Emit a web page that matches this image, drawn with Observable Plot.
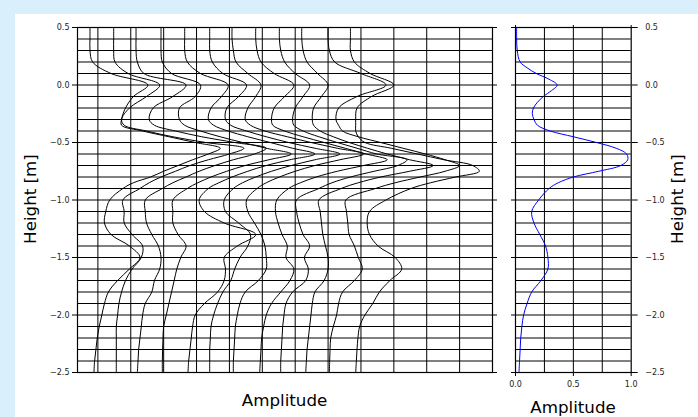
<!DOCTYPE html>
<html><head><meta charset="utf-8">
<script src="https://cdn.jsdelivr.net/npm/d3@7"></script>
<script src="https://cdn.jsdelivr.net/npm/@observablehq/plot@0.6"></script>
<style>
html,body{margin:0;padding:0;width:698px;height:417px;overflow:hidden;background:#d9effc;font-family:"DejaVu Sans",sans-serif}
#card{position:absolute;left:15px;top:14px;width:683px;height:403px;background:#fff}
#left,#right{position:absolute;top:0}
#left{left:0}
#right{left:500px}
.lbl{position:absolute;font-size:16.7px;line-height:1;color:#000;white-space:nowrap;transform:translate(-50%,-50%)}
.rot{transform:translate(-50%,-50%) rotate(-90deg)}
</style></head><body>
<div id="card"></div>
<div id="left"></div>
<div id="right"></div>
<div class="lbl rot" style="left:29.5px;top:199px">Height [m]</div>
<div class="lbl rot" style="left:676.5px;top:199px">Height [m]</div>
<div class="lbl" style="left:284.5px;top:399.5px">Amplitude</div>
<div class="lbl" style="left:573px;top:406.5px">Amplitude</div>
<script>
// depth levels (m) shared by all traces
const levels = [0.5,0.4,0.3,0.2,0.1,0.0,-0.1,-0.2,-0.3,-0.35,-0.4,-0.45,-0.5,-0.55,-0.6,-0.65,-0.7,-0.75,-0.8,-0.85,-0.9,-1.0,-1.1,-1.2,-1.3,-1.4,-1.5,-1.6,-1.7,-1.8,-1.9,-2.0,-2.1,-2.2,-2.3,-2.4,-2.5];
// trace offsets (amplitude units)
const offsets = [-0.06,0.12,0.29,0.48,0.66,0.85,1.02,1.20,1.38,1.55,1.75,1.92];
// amplitude of each trace at the levels above
const tr1 = [0,0,0,0.02,0.16,0.44,0.33,0.27,0.24,0.24,0.40,0.60,0.80,0.99,0.90,0.78,0.67,0.56,0.46,0.33,0.25,0.15,0.12,0.11,0.16,0.30,0.38,0.30,0.21,0.14,0.11,0.09,0.07,0.055,0.045,0.035,0.03];
const tr2 = [0,0,0,0.01,0.11,0.35,0.25,0.12,0.06,0.08,0.25,0.45,0.70,0.99,0.88,0.72,0.58,0.47,0.36,0.27,0.20,0.07,0.08,0.08,0.14,0.22,0.21,0.14,0.09,0.06,0.04,0.03,0.02,0.02,0.02,0.02,0.02];
const tr3 = [0,0,0,0.01,0.06,0.38,0.28,0.13,0.10,0.14,0.30,0.50,0.75,0.99,0.90,0.74,0.60,0.48,0.38,0.28,0.20,0.07,0.07,0.08,0.12,0.17,0.19,0.18,0.14,0.12,0.07,0.05,0.04,0.03,0.02,0.015,0.01];
const tr4 = [0,0,0,0.01,0.08,0.30,0.26,0.14,0.14,0.18,0.30,0.45,0.62,0.80,0.99,0.82,0.64,0.50,0.38,0.28,0.20,0.09,0.09,0.09,0.13,0.19,0.15,0.12,0.10,0.08,0.06,0.04,0.02,0.015,0.012,0.01,0.01];
const tr5 = [0,0,0,0.02,0.12,0.33,0.28,0.20,0.18,0.22,0.33,0.48,0.65,0.82,0.99,0.80,0.62,0.48,0.36,0.26,0.18,0.11,0.15,0.30,0.54,0.40,0.30,0.31,0.30,0.25,0.15,0.08,0.06,0.05,0.04,0.03,0.025];
const tr6 = [0,0,0,0.02,0.10,0.28,0.22,0.13,0.12,0.16,0.28,0.43,0.60,0.80,0.99,0.80,0.62,0.47,0.35,0.25,0.18,0.11,0.12,0.22,0.31,0.29,0.23,0.19,0.16,0.10,0.06,0.03,0.01,0.005,0,0,0];
const tr7 = [0,0,0.01,0.03,0.12,0.22,0.18,0.12,0.10,0.14,0.25,0.42,0.60,0.80,1.0,0.82,0.63,0.48,0.36,0.26,0.19,0.11,0.12,0.17,0.22,0.25,0.26,0.26,0.20,0.10,0.06,0.04,0.025,0.02,0.015,0.01,0.01];
const tr8 = [0,0,0.01,0.04,0.14,0.29,0.22,0.14,0.12,0.13,0.22,0.36,0.52,0.68,0.84,1.0,0.82,0.62,0.46,0.34,0.25,0.16,0.15,0.17,0.20,0.24,0.23,0.29,0.26,0.19,0.12,0.08,0.06,0.045,0.04,0.035,0.03];
const tr9 = [0,0,0.01,0.04,0.12,0.23,0.18,0.12,0.10,0.11,0.18,0.30,0.44,0.59,0.74,0.97,0.90,0.72,0.54,0.40,0.30,0.13,0.13,0.15,0.18,0.23,0.19,0.22,0.20,0.10,0.05,0.035,0.025,0.02,0.015,0.01,0.01];
const tr10 = [0,0,0.01,0.04,0.12,0.20,0.15,0.09,0.08,0.09,0.14,0.24,0.36,0.50,0.65,0.82,1.0,0.82,0.60,0.43,0.30,0.13,0.14,0.15,0.16,0.18,0.20,0.20,0.17,0.10,0.08,0.07,0.06,0.05,0.04,0.035,0.03];
const tr11 = [0,0,0.01,0.05,0.25,0.44,0.22,0.08,0.06,0.08,0.11,0.23,0.40,0.57,0.74,0.89,1.0,0.89,0.70,0.51,0.36,0.135,0.14,0.15,0.16,0.20,0.23,0.26,0.20,0.11,0.08,0.065,0.04,0.02,0.015,0.012,0.01];
const tr12 = [0,0,0,0.03,0.15,0.33,0.16,0.05,0.04,0.04,0.04,0.06,0.11,0.31,0.51,0.71,0.93,0.98,0.80,0.61,0.46,0.27,0.145,0.127,0.145,0.21,0.34,0.39,0.30,0.22,0.17,0.11,0.07,0.057,0.05,0.045,0.04];
const traces = [tr1,tr2,tr3,tr4,tr5,tr6,tr7,tr8,tr9,tr10,tr11,tr12];

// mean amplitude curve (right panel)
const meanY = [0.5,0.4,0.3,0.2,0.15,0.1,0.05,0.0,-0.05,-0.1,-0.15,-0.2,-0.25,-0.3,-0.35,-0.4,-0.45,-0.5,-0.55,-0.6,-0.65,-0.7,-0.75,-0.8,-0.85,-0.9,-1.0,-1.1,-1.2,-1.3,-1.4,-1.5,-1.6,-1.7,-1.8,-1.9,-2.0,-2.1,-2.2,-2.3,-2.4,-2.5];
const meanAmp = [0.01,0.01,0.015,0.04,0.10,0.18,0.29,0.36,0.31,0.24,0.19,0.155,0.145,0.16,0.19,0.30,0.50,0.70,0.87,0.96,0.97,0.91,0.72,0.50,0.37,0.29,0.20,0.14,0.16,0.21,0.26,0.28,0.28,0.22,0.14,0.10,0.07,0.055,0.045,0.04,0.035,0.03];

const yTicks = [0.5,0.0,-0.5,-1.0,-1.5,-2.0,-2.5];
const gridY = [0.4,0.3,0.2,0.1,0.0,-0.1,-0.2,-0.3,-0.4,-0.5,-0.6,-0.7,-0.8,-0.9,-1.0,-1.1,-1.2,-1.3,-1.4,-1.5,-1.6,-1.7,-1.8,-1.9,-2.0,-2.1,-2.2,-2.3,-2.4];
const gridXLeft = [0,0.25,0.5,0.75,1.0,1.25,1.5,1.75,2.0,2.25,2.5,2.75];
const gridXRight = [0.25,0.5,0.75];
const xTicksRight = [0,0.5,1.0];

const traceData = traces.flatMap((t, i) => t.map((a, j) => ({x: offsets[i] + a, y: levels[j], k: i})));
const meanData = meanY.map((y, j) => ({x: meanAmp[j], y}));
const fmt = d3.format(".1f");
const style = {background: "transparent", fontFamily: "DejaVu Sans, sans-serif", fontSize: "8px", color: "#222", overflow: "visible"};

const left = Plot.plot({
  width: 500, height: 380,
  marginLeft: 77, marginRight: 8, marginTop: 27, marginBottom: 8,
  style,
  x: {domain: [-0.155, 3.0], axis: null},
  y: {domain: [-2.5, 0.5], axis: null},
  marks: [
    Plot.ruleX(gridXLeft, {stroke: "#000", strokeWidth: 1}),
    Plot.ruleY(gridY, {stroke: "#000", strokeWidth: 1}),
    Plot.line(traceData, {x: "x", y: "y", z: "k", curve: "catmull-rom", stroke: "#000", strokeWidth: 1}),
    Plot.frame({stroke: "#000", strokeWidth: 1.2}),
    Plot.axisY(yTicks, {anchor: "left", tickSize: 5, tickPadding: 3, tickFormat: fmt, label: null, stroke: "#000"}),
    Plot.axisY(yTicks, {anchor: "right", tickSize: 4, tickFormat: () => "", label: null, stroke: "#000"})
  ]
});
document.getElementById("left").appendChild(left);

const right = Plot.plot({
  width: 198, height: 395,
  marginLeft: 15, marginRight: 67.3, marginTop: 27, marginBottom: 23,
  style,
  x: {domain: [0, 1], axis: null},
  y: {domain: [-2.5, 0.5], axis: null},
  marks: [
    Plot.ruleX(gridXRight, {stroke: "#000", strokeWidth: 1}),
    Plot.ruleY(gridY, {stroke: "#000", strokeWidth: 1}),
    Plot.line(meanData, {x: "x", y: "y", curve: "catmull-rom", stroke: "#0000ff", strokeWidth: 1}),
    Plot.frame({stroke: "#000", strokeWidth: 1.2}),
    Plot.axisY(yTicks, {anchor: "right", tickSize: 6, tickPadding: 8, tickFormat: fmt, label: null, stroke: "#000"}),
    Plot.axisY(yTicks, {anchor: "left", tickSize: 4, tickFormat: () => "", label: null, stroke: "#000"}),
    Plot.axisX(xTicksRight, {anchor: "bottom", tickSize: 4, tickPadding: 5, tickFormat: fmt, label: null, stroke: "#000"}),
    Plot.axisX(xTicksRight, {anchor: "top", tickSize: 3, tickFormat: () => "", label: null, stroke: "#000"})
  ]
});
document.getElementById("right").appendChild(right);
</script>
</body></html>
